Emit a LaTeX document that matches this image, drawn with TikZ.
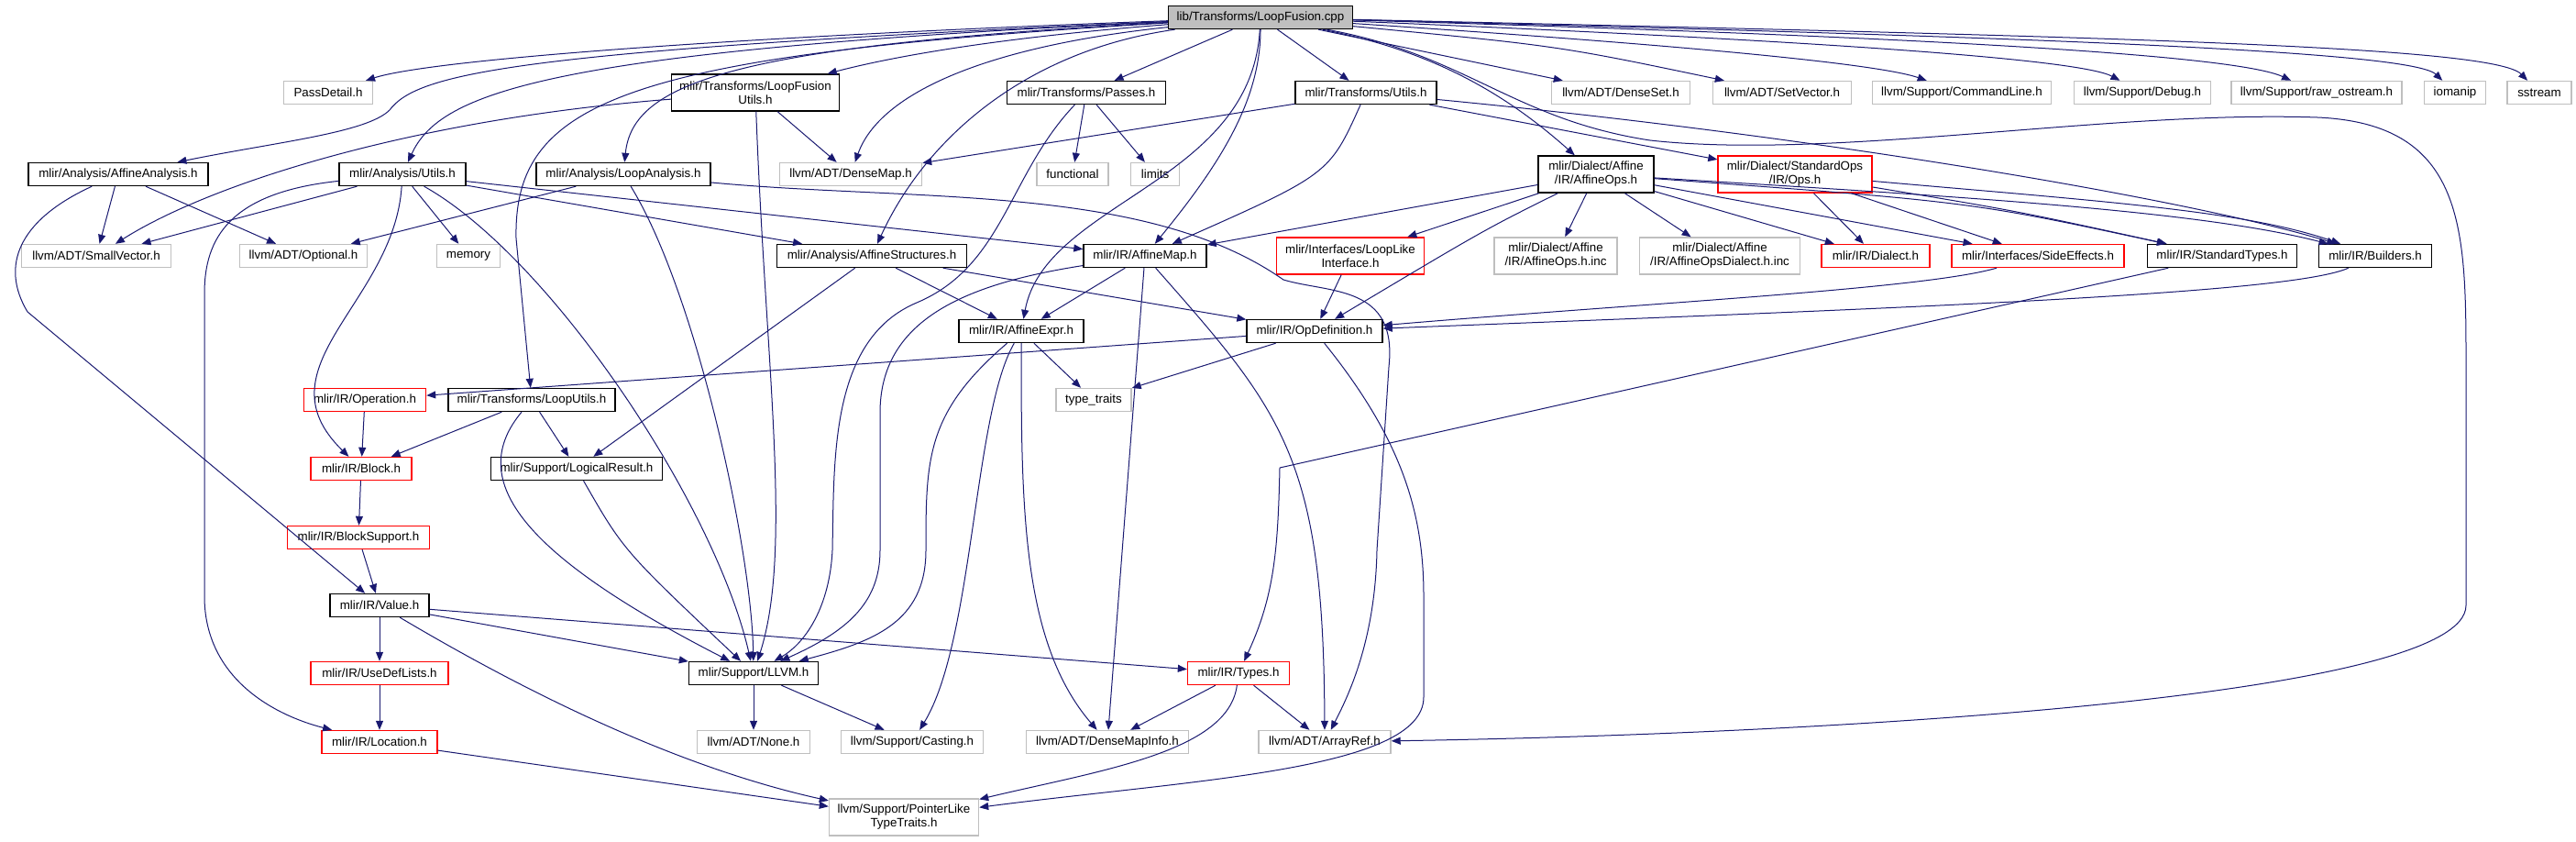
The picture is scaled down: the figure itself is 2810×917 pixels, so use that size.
\documentclass[tikz,border=0pt]{standalone}
\usepackage{fontspec}
\setmainfont{Liberation Sans}
\usetikzlibrary{arrows.meta}
\definecolor{edgeblue}{RGB}{25,25,112}
\definecolor{nodegray}{RGB}{191,191,191}

\begin{document}
\begin{tikzpicture}[x=0.5pt, y=-0.5pt,
    box/.style={draw, rectangle, inner sep=0pt, minimum height=12.5pt, align=center, font=\fontsize{6.67}{7.5}\selectfont, line width=0.7pt},
    doc/.style={box, draw=black},
    ext/.style={box, draw=nodegray},
    trunc/.style={box, draw=red},
    rootbox/.style={box, draw=black, fill=nodegray},
    tall/.style={minimum height=20pt},
    boxw/.style={minimum width=#1*0.5pt},
    incl/.style={-{Triangle[length=5pt,width=4pt]}, edgeblue, line width=0.5pt}
  ]
  \useasboundingbox (0,0) rectangle (2810,917);

  % top row
  \node (root) [rootbox, boxw=201] at (1375,19) {lib/Transforms/LoopFusion.cpp};
  \node (passdetail) [ext, boxw=97] at (358,101) {PassDetail.h};
  \node (fusionutils) [doc, boxw=183, tall] at (824,101) {mlir/Transforms/LoopFusion\\Utils.h};
  \node (passes) [doc, boxw=173] at (1185,101) {mlir/Transforms/Passes.h};
  \node (tutils) [doc, boxw=154] at (1490,101) {mlir/Transforms/Utils.h};
  \node (denseset) [ext, boxw=151] at (1768,101) {llvm/ADT/DenseSet.h};
  \node (setvector) [ext, boxw=151] at (1944,101) {llvm/ADT/SetVector.h};
  \node (cmdline) [ext, boxw=195] at (2140,101) {llvm/Support/CommandLine.h};
  \node (debug) [ext, boxw=149] at (2337,101) {llvm/Support/Debug.h};
  \node (rawostream) [ext, boxw=186] at (2527,101) {llvm/Support/raw\_ostream.h};
  \node (iomanip) [ext, boxw=67] at (2678,101) {iomanip};
  \node (sstream) [ext, boxw=70] at (2770,101) {sstream};

  % second row
  \node (affanalysis) [doc, boxw=196] at (129,190) {mlir/Analysis/AffineAnalysis.h};
  \node (autils) [doc, boxw=138] at (439,190) {mlir/Analysis/Utils.h};
  \node (loopanalysis) [doc, boxw=190] at (680,190) {mlir/Analysis/LoopAnalysis.h};
  \node (densemap) [ext, boxw=155] at (928,190) {llvm/ADT/DenseMap.h};
  \node (functional) [ext, boxw=78] at (1170,190) {functional};
  \node (limits) [ext, boxw=53] at (1260,190) {limits};
  \node (affineops) [doc, boxw=126, tall] at (1741,190) {mlir/Dialect/Affine\\/IR/AffineOps.h};
  \node (stdops) [trunc, boxw=168, tall] at (1958,190) {mlir/Dialect/StandardOps\\/IR/Ops.h};

  % third row
  \node (smallvector) [ext, boxw=163] at (105,279) {llvm/ADT/SmallVector.h};
  \node (optional) [ext, boxw=139] at (331,279) {llvm/ADT/Optional.h};
  \node (memory) [ext, boxw=69] at (511,279) {memory};
  \node (affstructs) [doc, boxw=207] at (951,279) {mlir/Analysis/AffineStructures.h};
  \node (affinemap) [doc, boxw=134] at (1249,279) {mlir/IR/AffineMap.h};
  \node (looplike) [trunc, boxw=161, tall] at (1473,279) {mlir/Interfaces/LoopLike\\Interface.h};
  \node (opsinc) [ext, boxw=134, tall] at (1697,279) {mlir/Dialect/Affine\\/IR/AffineOps.h.inc};
  \node (dialectinc) [ext, boxw=175, tall] at (1876,279) {mlir/Dialect/Affine\\/IR/AffineOpsDialect.h.inc};
  \node (dialect) [trunc, boxw=118] at (2046,279) {mlir/IR/Dialect.h};
  \node (sideeffects) [trunc, boxw=188] at (2223,279) {mlir/Interfaces/SideEffects.h};
  \node (stdtypes) [doc, boxw=163] at (2424,279) {mlir/IR/StandardTypes.h};
  \node (builders) [doc, boxw=123] at (2591,279) {mlir/IR/Builders.h};

  % lower part
  \node (affineexpr) [doc, boxw=136] at (1114,361) {mlir/IR/AffineExpr.h};
  \node (opdef) [doc, boxw=148] at (1434,361) {mlir/IR/OpDefinition.h};
  \node (operation) [trunc, boxw=133] at (398,436) {mlir/IR/Operation.h};
  \node (looputils) [doc, boxw=182] at (580,436) {mlir/Transforms/LoopUtils.h};
  \node (typetraits) [ext, boxw=82] at (1193,436) {type\_traits};
  \node (block) [trunc, boxw=110] at (394,511) {mlir/IR/Block.h};
  \node (logicalresult) [doc, boxw=187] at (629,511) {mlir/Support/LogicalResult.h};
  \node (blocksupport) [trunc, boxw=155] at (391,586) {mlir/IR/BlockSupport.h};
  \node (value) [doc, boxw=108] at (414,660) {mlir/IR/Value.h};
  \node (usedef) [trunc, boxw=150] at (414,734) {mlir/IR/UseDefLists.h};
  \node (llvmh) [doc, boxw=141] at (822,734) {mlir/Support/LLVM.h};
  \node (types) [trunc, boxw=111] at (1351,734) {mlir/IR/Types.h};
  \node (location) [trunc, boxw=126] at (414,809) {mlir/IR/Location.h};
  \node (none) [ext, boxw=123] at (822,809) {llvm/ADT/None.h};
  \node (casting) [ext, boxw=155] at (995,809) {llvm/Support/Casting.h};
  \node (densemapinfo) [ext, boxw=177] at (1208,809) {llvm/ADT/DenseMapInfo.h};
  \node (arrayref) [ext, boxw=144] at (1445,809) {llvm/ADT/ArrayRef.h};
  \node (pointerlike) [ext, boxw=163, tall] at (986,891) {llvm/Support/PointerLike\\TypeTraits.h};

  % edges from the source file
  \draw [incl] (root) .. controls (800,40) and (470,65) .. (passdetail);
  \draw [incl] (root) .. controls (560,55) and (455,80) .. (425,120) .. controls (400,145) and (300,155) .. (affanalysis);
  \draw [incl] (root) .. controls (600,55) and (480,100) .. (autils);
  \draw [incl] (root) .. controls (680,60) and (560,110) .. (563,260) -- (looputils);
  \draw [incl] (root) .. controls (1100,40) and (980,60) .. (fusionutils);
  \draw [incl] (root) .. controls (800,50) and (690,90) .. (loopanalysis);
  \draw [incl] (root) .. controls (1080,50) and (960,100) .. (densemap);
  \draw [incl] (root) .. controls (1120,55) and (1010,150) .. (affstructs);
  \draw [incl] (root) -- (passes);
  \draw [incl] (root) .. controls (1375,110) and (1330,180) .. (affinemap);
  \draw [incl] (root) .. controls (1365,200) and (1140,220) .. (affineexpr);
  \draw [incl] (root) -- (tutils);
  \draw [incl] (root) .. controls (1560,55) and (1640,100) .. (affineops);
  \draw [incl] (root) -- (denseset);
  \draw [incl] (root) .. controls (1700,50) .. (setvector);
  \draw [incl] (root) .. controls (1850,50) and (2050,70) .. (cmdline);
  \draw [incl] (root) .. controls (2000,45) and (2270,65) .. (debug);
  \draw [incl] (root) .. controls (2100,40) and (2440,60) .. (rawostream);
  \draw [incl] (root) .. controls (2200,40) and (2630,55) .. (iomanip);
  \draw [incl] (root) .. controls (2300,40) and (2720,50) .. (sstream);
  \draw [incl] (root) .. controls (1600,60) and (1650,130) .. (1800,153)
    .. controls (2000,175) and (2300,120) .. (2528,128)
    .. controls (2690,135) and (2690,250) .. (2690,400) -- (2690,660)
    .. controls (2690,760) and (2000,800) .. (arrayref);

  % second row edges
  \draw [incl] (fusionutils) .. controls (450,130) and (230,200) .. (smallvector);
  \draw [incl] (fusionutils) -- (densemap);
  \draw [incl] (fusionutils) .. controls (835,400) and (865,600) .. (llvmh);
  \draw [incl] (passes) -- (functional);
  \draw [incl] (passes) -- (limits);
  \draw [incl] (passes) .. controls (1100,190) and (1095,290) .. (1000,330)
    .. controls (905,370) and (910,500) .. (908,600) .. controls (905,660) and (880,700) .. (llvmh);
  \draw [incl] (tutils) -- (densemap);
  \draw [incl] (tutils) .. controls (1450,190) .. (affinemap);
  \draw [incl] (tutils) -- (stdops);
  \draw [incl] (tutils) .. controls (2000,150) and (2400,220) .. (builders);
  \draw [incl] (affanalysis) -- (smallvector);
  \draw [incl] (affanalysis) -- (optional);
  \draw [incl] (affanalysis) .. controls (20,240) and (0,290) .. (30,340) -- (value);
  \draw [incl] (autils) -- (smallvector);
  \draw [incl] (autils) -- (memory);
  \draw [incl] (autils) -- (affstructs);
  \draw [incl] (autils) -- (affinemap);
  \draw [incl] (autils) .. controls (430,330) and (280,400) .. (block);
  \draw [incl] (autils) .. controls (250,210) and (223,260) .. (223,320) -- (223,650)
    .. controls (223,740) and (300,780) .. (location);
  \draw [incl] (autils) .. controls (600,280) and (780,550) .. (llvmh);
  \draw [incl] (loopanalysis) -- (optional);
  \draw [incl] (loopanalysis) .. controls (760,320) and (820,600) .. (llvmh);
  \draw [incl] (loopanalysis) .. controls (1000,220) and (1250,200) .. (1400,305)
    .. controls (1450,320) and (1525,310) .. (1515,400) -- (1502,600)
    .. controls (1500,700) and (1470,760) .. (arrayref);
  \draw [incl] (affineops) -- (affinemap);
  \draw [incl] (affineops) -- (looplike);
  \draw [incl] (affineops) -- (opsinc);
  \draw [incl] (affineops) -- (dialectinc);
  \draw [incl] (affineops) .. controls (1620,250) .. (opdef);
  \draw [incl] (affineops) -- (dialect);
  \draw [incl] (affineops) -- (sideeffects);
  \draw [incl] (affineops) .. controls (2150,220) .. (stdtypes);
  \draw [incl] (affineops) .. controls (2150,215) and (2400,230) .. (builders);
  \draw [incl] (stdops) -- (dialect);
  \draw [incl] (stdops) -- (sideeffects);
  \draw [incl] (stdops) .. controls (2200,230) .. (stdtypes);
  \draw [incl] (stdops) .. controls (2300,220) and (2450,230) .. (builders);

  % third row edges
  \draw [incl] (affstructs) -- (affineexpr);
  \draw [incl] (affstructs) -- (opdef);
  \draw [incl] (affstructs) -- (logicalresult);
  \draw [incl] (affinemap) -- (affineexpr);
  \draw [incl] (affinemap) .. controls (1050,310) and (960,350) .. (960,450) -- (960,600)
    .. controls (960,660) and (920,690) .. (llvmh);
  \draw [incl] (affinemap) -- (densemapinfo);
  \draw [incl] (affinemap) .. controls (1400,450) and (1444,500) .. (arrayref);
  \draw [incl] (looplike) -- (opdef);
  \draw [incl] (sideeffects) .. controls (2100,315) and (1800,330) .. (opdef);
  \draw [incl] (builders) .. controls (2500,320) and (2100,335) .. (opdef);
  \draw [incl] (stdtypes) -- (1396,510) .. controls (1394,600) and (1390,650) .. (types);

  % lower edges
  \draw [incl] (affineexpr) -- (typetraits);
  \draw [incl] (affineexpr) .. controls (1010,450) and (1010,500) .. (1010,600)
    .. controls (1010,680) and (950,700) .. (llvmh);
  \draw [incl] (affineexpr) .. controls (1062,450) and (1062,700) .. (casting);
  \draw [incl] (affineexpr) .. controls (1114,550) and (1114,700) .. (densemapinfo);
  \draw [incl] (opdef) -- (operation);
  \draw [incl] (opdef) -- (typetraits);
  \draw [incl] (opdef) .. controls (1530,480) and (1553,560) .. (1553,650) -- (1553,760)
    .. controls (1553,840) and (1300,850) .. (pointerlike);
  \draw [incl] (operation) -- (block);
  \draw [incl] (looputils) -- (block);
  \draw [incl] (looputils) -- (logicalresult);
  \draw [incl] (looputils) .. controls (510,520) and (560,600) .. (llvmh);
  \draw [incl] (logicalresult) .. controls (680,600) .. (llvmh);
  \draw [incl] (block) -- (blocksupport);
  \draw [incl] (blocksupport) -- (value);
  \draw [incl] (value) -- (usedef);
  \draw [incl] (value) -- (llvmh);
  \draw [incl] (value) -- (types);
  \draw [incl] (value) .. controls (650,800) and (800,850) .. (pointerlike);
  \draw [incl] (usedef) -- (location);
  \draw [incl] (location) -- (pointerlike);
  \draw [incl] (llvmh) -- (none);
  \draw [incl] (llvmh) -- (casting);
  \draw [incl] (types) -- (densemapinfo);
  \draw [incl] (types) -- (arrayref);
  \draw [incl] (types) .. controls (1340,820) and (1200,840) .. (pointerlike);
\end{tikzpicture}
\end{document}
